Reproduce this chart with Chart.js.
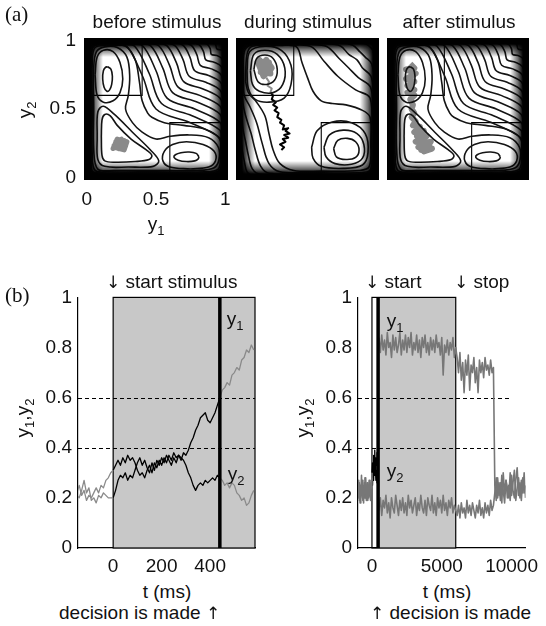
<!DOCTYPE html>
<html lang="en">
<head>
<meta charset="UTF-8">
<title>Decision dynamics</title>
<script src="https://cdn.jsdelivr.net/npm/chart.js"></script>
<style>
  body { margin: 0; background: #fff; color: #111; font-family: "Liberation Sans", Arial, sans-serif; }
  #fig { position: relative; width: 546px; height: 626px; overflow: hidden; }
  canvas { position: absolute; }
  .lbl { position: absolute; font-size: 19px; line-height: 1; white-space: nowrap; }
  .lbl sub { font-size: 13px; vertical-align: -5px; line-height: 0; }
  .arr { display: inline-block; font-family: "DejaVu Sans", sans-serif; font-size: 17px; color: #111; will-change: transform; }
  .c { transform: translate(-50%, -50%); }
  .rot { transform: translate(-50%, -50%) rotate(-90deg); }
  .tag { font-family: "Liberation Serif", "Times New Roman", serif; font-size: 21px; }
</style>
</head>
<body>
<div id="fig">
  <canvas id="before" width="240" height="215" style="left:0;top:0"></canvas>
  <canvas id="during" width="143" height="142" style="left:236px;top:38px"></canvas>
  <canvas id="after" width="142" height="142" style="left:387px;top:38px"></canvas>
  <canvas id="tsShort" width="270" height="300" style="left:0;top:280px"></canvas>
  <canvas id="tsLong" width="266" height="300" style="left:280px;top:280px"></canvas>

  <div class="lbl tag" style="left:5px;top:4px">(a)</div>
  <div class="lbl c" style="left:157px;top:21px">before stimulus</div>
  <div class="lbl c" style="left:308px;top:21px">during stimulus</div>
  <div class="lbl c" style="left:459px;top:21px">after stimulus</div>
  <div class="lbl rot" style="left:24px;top:110px">y<sub>2</sub></div>
  <div class="lbl c" style="left:156px;top:223px">y<sub>1</sub></div>

  <div class="lbl tag" style="left:5px;top:285px">(b)</div>
  <div class="lbl" style="left:106px;top:272px"><span class="arr">&#x2193;</span> start stimulus</div>
  <div class="lbl" style="left:365px;top:272px"><span class="arr">&#x2193;</span> start</div>
  <div class="lbl" style="left:454px;top:272px"><span class="arr">&#x2193;</span> stop</div>
  <div class="lbl c" style="left:235px;top:318px">y<sub>1</sub></div>
  <div class="lbl c" style="left:236px;top:473px">y<sub>2</sub></div>
  <div class="lbl c" style="left:395px;top:320px">y<sub>1</sub></div>
  <div class="lbl c" style="left:395px;top:470px">y<sub>2</sub></div>
  <div class="lbl rot" style="left:22px;top:418px">y<sub>1</sub>,y<sub>2</sub></div>
  <div class="lbl rot" style="left:302px;top:418px">y<sub>1</sub>,y<sub>2</sub></div>
  <div class="lbl c" style="left:167px;top:591px">t (ms)</div>
  <div class="lbl c" style="left:447px;top:591px">t (ms)</div>
  <div class="lbl" style="left:59px;top:603px">decision is made <span class="arr">&#x2191;</span></div>
  <div class="lbl" style="left:370px;top:603px"><span class="arr">&#x2191;</span> decision is made</div>
</div>

<script>
// ---------- (a) energy landscape contours, unit square (y1, y2) ----------
const boxUL = [[-0.05, 0.6], [0.4, 0.6], [0.4, 1.05]];
const boxLR = [[0.6, -0.05], [0.6, 0.4], [1.05, 0.4]];

// landscape without stimulus (three wells)
const ulCore = [[0.15,0.81],[0.175,0.79],[0.185,0.74],[0.18,0.68],[0.165,0.64],[0.145,0.63],[0.125,0.66],[0.115,0.72],[0.12,0.78],[0.135,0.805],[0.15,0.81]];
const lrCore = [[0.81,0.15],[0.79,0.175],[0.74,0.185],[0.68,0.18],[0.64,0.165],[0.63,0.145],[0.66,0.125],[0.72,0.115],[0.78,0.12],[0.805,0.135],[0.81,0.15]];
const llCore = [[0.105,0.3],[0.11,0.16],[0.13,0.12],[0.2,0.11],[0.35,0.115],[0.45,0.13],[0.47,0.16],[0.43,0.2],[0.32,0.28],[0.22,0.38],[0.17,0.45],[0.13,0.46],[0.11,0.42],[0.105,0.3]];
const ulRing = [[0.06,0.75],[0.075,0.88],[0.12,0.93],[0.19,0.92],[0.24,0.84],[0.26,0.72],[0.24,0.62],[0.19,0.56],[0.12,0.55],[0.075,0.6],[0.06,0.75]];
const lrRing = [[0.75,0.06],[0.88,0.075],[0.93,0.12],[0.92,0.19],[0.84,0.24],[0.72,0.26],[0.62,0.24],[0.56,0.19],[0.55,0.12],[0.6,0.075],[0.75,0.06]];
const llRing = [[0.075,0.3],[0.08,0.13],[0.13,0.08],[0.3,0.075],[0.48,0.08],[0.52,0.12],[0.46,0.2],[0.33,0.33],[0.2,0.46],[0.12,0.52],[0.08,0.48],[0.075,0.3]];
const merged1 = [[0.05,0.5],[0.05,0.8],[0.07,0.92],[0.13,0.955],[0.22,0.95],[0.29,0.88],[0.31,0.74],[0.3,0.6],[0.28,0.5],[0.33,0.4],[0.4,0.33],[0.5,0.28],[0.6,0.3],[0.74,0.31],[0.88,0.29],[0.95,0.22],[0.955,0.13],[0.92,0.07],[0.8,0.05],[0.5,0.05],[0.2,0.05],[0.08,0.06],[0.05,0.2],[0.05,0.5]];
const merged2 = [[0.04,0.5],[0.04,0.85],[0.06,0.95],[0.15,0.965],[0.28,0.96],[0.35,0.86],[0.38,0.7],[0.4,0.56],[0.44,0.47],[0.47,0.44],[0.56,0.4],[0.7,0.38],[0.86,0.35],[0.96,0.28],[0.965,0.15],[0.95,0.06],[0.85,0.04],[0.5,0.04],[0.15,0.04],[0.06,0.05],[0.04,0.15],[0.04,0.5]];
const outer1 = [[0.034,0.5],[0.034,0.9],[0.06,0.966],[0.2,0.966],[0.29,0.958],[0.403,0.74],[0.5,0.5],[0.74,0.403],[0.958,0.29],[0.966,0.2],[0.966,0.06],[0.9,0.034],[0.5,0.034],[0.06,0.034],[0.034,0.06],[0.034,0.5]];
const outer2 = [[0.031,0.5],[0.031,0.9],[0.06,0.969],[0.256,0.969],[0.346,0.96],[0.451,0.76],[0.54,0.54],[0.76,0.451],[0.96,0.346],[0.969,0.256],[0.969,0.06],[0.9,0.031],[0.5,0.031],[0.06,0.031],[0.031,0.06],[0.031,0.5]];
const outer3 = [[0.028,0.5],[0.028,0.9],[0.06,0.972],[0.315,0.972],[0.405,0.961],[0.5,0.78],[0.58,0.58],[0.78,0.5],[0.961,0.405],[0.972,0.315],[0.972,0.06],[0.9,0.028],[0.5,0.028],[0.06,0.028],[0.028,0.06],[0.028,0.5]];
const outer4 = [[0.025,0.5],[0.025,0.9],[0.06,0.975],[0.372,0.975],[0.462,0.962],[0.549,0.8],[0.62,0.62],[0.8,0.549],[0.962,0.462],[0.975,0.372],[0.975,0.06],[0.9,0.025],[0.5,0.025],[0.06,0.025],[0.025,0.06],[0.025,0.5]];
const outer5 = [[0.022,0.5],[0.022,0.9],[0.06,0.978],[0.43,0.978],[0.52,0.963],[0.598,0.82],[0.66,0.66],[0.82,0.598],[0.963,0.52],[0.978,0.43],[0.978,0.06],[0.9,0.022],[0.5,0.022],[0.06,0.022],[0.022,0.06],[0.022,0.5]];
const outer6 = [[0.019,0.5],[0.019,0.9],[0.06,0.981],[0.488,0.981],[0.578,0.964],[0.647,0.84],[0.7,0.7],[0.84,0.647],[0.964,0.578],[0.981,0.488],[0.981,0.06],[0.9,0.019],[0.5,0.019],[0.06,0.019],[0.019,0.06],[0.019,0.5]];
const outer7 = [[0.016,0.5],[0.016,0.9],[0.06,0.984],[0.546,0.984],[0.636,0.965],[0.696,0.86],[0.74,0.74],[0.86,0.696],[0.965,0.636],[0.984,0.546],[0.984,0.06],[0.9,0.016],[0.5,0.016],[0.06,0.016],[0.016,0.06],[0.016,0.5]];
const outer8 = [[0.013,0.5],[0.013,0.9],[0.06,0.987],[0.605,0.987],[0.695,0.967],[0.745,0.88],[0.78,0.78],[0.88,0.745],[0.967,0.695],[0.987,0.605],[0.987,0.06],[0.9,0.013],[0.5,0.013],[0.06,0.013],[0.013,0.06],[0.013,0.5]];
const outer9 = [[0.01,0.5],[0.01,0.9],[0.06,0.99],[0.662,0.99],[0.752,0.969],[0.794,0.9],[0.82,0.82],[0.9,0.794],[0.969,0.752],[0.99,0.662],[0.99,0.06],[0.9,0.01],[0.5,0.01],[0.06,0.01],[0.01,0.06],[0.01,0.5]];
const outer10 = [[0.007,0.5],[0.007,0.9],[0.06,0.993],[0.72,0.993],[0.81,0.972],[0.843,0.92],[0.86,0.86],[0.92,0.843],[0.972,0.81],[0.993,0.72],[0.993,0.06],[0.9,0.007],[0.5,0.007],[0.06,0.007],[0.007,0.06],[0.007,0.5]];
const outer11 = [[0.004,0.5],[0.004,0.9],[0.06,0.996],[0.78,0.996],[0.868,0.976],[0.892,0.94],[0.9,0.9],[0.94,0.892],[0.976,0.868],[0.996,0.78],[0.996,0.06],[0.9,0.004],[0.5,0.004],[0.06,0.004],[0.004,0.06],[0.004,0.5]];
const outer12 = [[0.001,0.5],[0.001,0.9],[0.06,0.999],[0.84,0.999],[0.926,0.98],[0.94,0.94],[0.98,0.926],[0.999,0.84],[0.999,0.06],[0.9,0.001],[0.5,0.001],[0.06,0.001],[0.001,0.06],[0.001,0.5]];
const restContours = [ulCore, lrCore, llCore, ulRing, lrRing, llRing, merged1, merged2,
  outer1, outer2, outer3, outer4, outer5, outer6, outer7, outer8, outer9, outer10, outer11, outer12];

// landscape during the stimulus (lower-left well gone)
const ul1 = [[0.11,0.79],[0.13,0.87],[0.19,0.895],[0.25,0.87],[0.28,0.79],[0.26,0.71],[0.2,0.68],[0.14,0.7],[0.11,0.79]];
const ul2 = [[0.085,0.78],[0.11,0.9],[0.19,0.93],[0.28,0.9],[0.335,0.8],[0.32,0.68],[0.25,0.62],[0.15,0.63],[0.1,0.68],[0.085,0.78]];
const ul3 = [[0.06,0.78],[0.08,0.92],[0.19,0.96],[0.31,0.93],[0.38,0.82],[0.38,0.68],[0.33,0.58],[0.22,0.55],[0.12,0.57],[0.07,0.65],[0.06,0.78]];
const lr1 = [[0.69,0.21],[0.72,0.27],[0.79,0.285],[0.85,0.26],[0.875,0.2],[0.85,0.145],[0.78,0.13],[0.71,0.15],[0.69,0.21]];
const lr2 = [[0.62,0.22],[0.66,0.31],[0.76,0.345],[0.86,0.32],[0.91,0.24],[0.9,0.14],[0.82,0.095],[0.7,0.1],[0.635,0.15],[0.62,0.22]];
const lr3 = [[0.53,0.22],[0.57,0.34],[0.68,0.405],[0.82,0.4],[0.92,0.32],[0.94,0.18],[0.9,0.09],[0.76,0.065],[0.6,0.08],[0.54,0.14],[0.53,0.22]];
const ridge1 = [[0.05,0.7],[0.06,0.9],[0.1,0.96],[0.3,0.965],[0.42,0.955],[0.46,0.84],[0.5,0.73],[0.54,0.63],[0.6,0.56],[0.68,0.54],[0.78,0.53],[0.9,0.49],[0.955,0.44],[0.96,0.25],[0.95,0.08],[0.88,0.05],[0.6,0.045],[0.4,0.05],[0.3,0.1],[0.25,0.2],[0.22,0.32],[0.19,0.45],[0.13,0.55],[0.07,0.62],[0.05,0.7]];
const ridge2 = [[0.035,0.72],[0.04,0.92],[0.09,0.968],[0.4,0.968],[0.53,0.955],[0.62,0.85],[0.72,0.74],[0.85,0.64],[0.955,0.58],[0.965,0.3],[0.96,0.06],[0.9,0.035],[0.5,0.035],[0.3,0.04],[0.22,0.1],[0.17,0.25],[0.13,0.4],[0.08,0.52],[0.04,0.6],[0.035,0.72]];
const ridge3 = [[0.028,0.72],[0.03,0.92],[0.08,0.972],[0.52,0.972],[0.64,0.958],[0.73,0.87],[0.8,0.8],[0.87,0.73],[0.958,0.66],[0.972,0.5],[0.972,0.08],[0.92,0.028],[0.5,0.028],[0.22,0.03],[0.16,0.08],[0.12,0.2],[0.09,0.32],[0.05,0.45],[0.03,0.55],[0.028,0.72]];
const ridge4 = [[0.021,0.72],[0.022,0.92],[0.07,0.979],[0.64,0.979],[0.74,0.962],[0.8,0.9],[0.86,0.86],[0.9,0.8],[0.962,0.74],[0.979,0.6],[0.979,0.08],[0.92,0.021],[0.5,0.021],[0.16,0.022],[0.1,0.06],[0.07,0.16],[0.05,0.26],[0.03,0.36],[0.021,0.5],[0.021,0.72]];
const ridge5 = [[0.014,0.72],[0.015,0.92],[0.06,0.986],[0.74,0.986],[0.83,0.967],[0.88,0.92],[0.92,0.88],[0.967,0.83],[0.986,0.7],[0.986,0.08],[0.92,0.014],[0.5,0.014],[0.1,0.015],[0.06,0.04],[0.04,0.12],[0.025,0.2],[0.015,0.3],[0.014,0.72]];
const ridge6 = [[0.007,0.72],[0.008,0.92],[0.05,0.993],[0.86,0.993],[0.93,0.975],[0.955,0.955],[0.975,0.93],[0.993,0.84],[0.993,0.08],[0.92,0.007],[0.5,0.007],[0.06,0.008],[0.03,0.02],[0.015,0.06],[0.008,0.15],[0.007,0.72]];
const stimContours = [ul1, ul2, ul3, lr1, lr2, lr3, ridge1, ridge2, ridge3, ridge4, ridge5, ridge6];

// simulated state clouds / trajectories in the (y1, y2) plane
const beforeCloud = [[0.19,0.25],[0.23,0.21],[0.28,0.23],[0.25,0.28],[0.2,0.22],[0.27,0.2],[0.29,0.26],[0.22,0.28],[0.19,0.21],[0.24,0.25],[0.27,0.27],[0.21,0.26],[0.25,0.2]];
const duringPath = [[0.31,0.2],[0.33,0.22],[0.3,0.24],[0.34,0.26],[0.32,0.28],[0.36,0.29],[0.33,0.31],[0.37,0.32],[0.34,0.34],[0.36,0.36],[0.32,0.35],[0.33,0.38],[0.3,0.4],[0.31,0.42],[0.28,0.44],[0.29,0.47],[0.26,0.49],[0.28,0.51],[0.25,0.53],[0.27,0.55],[0.24,0.57],[0.25,0.6],[0.23,0.62]];
const duringTail = [[0.23,0.62],[0.24,0.65],[0.21,0.67],[0.22,0.7],[0.2,0.73]];
const duringCloud = [[0.15,0.8],[0.2,0.86],[0.24,0.8],[0.18,0.74],[0.14,0.84],[0.22,0.84],[0.23,0.76],[0.16,0.77],[0.19,0.82],[0.15,0.86],[0.21,0.78]];
const afterCloud = [[0.15,0.83],[0.18,0.8],[0.12,0.79],[0.19,0.76],[0.12,0.72],[0.18,0.7],[0.13,0.67],[0.18,0.64],[0.13,0.62],[0.18,0.6],[0.15,0.57],[0.17,0.53],[0.16,0.5],[0.18,0.47],[0.16,0.44],[0.19,0.41],[0.17,0.38],[0.22,0.37],[0.18,0.33],[0.25,0.34],[0.2,0.3],[0.27,0.3],[0.19,0.26],[0.26,0.25],[0.21,0.22],[0.29,0.23],[0.23,0.2],[0.31,0.21],[0.25,0.19],[0.3,0.26],[0.22,0.24],[0.27,0.28]];

const unitTicks = [0, 0.5, 1];

// ---------- (b) time courses ----------
const thresholds = [0.4, 0.6];
const activityTicks = [0, 0.2, 0.4, 0.6, 0.8, 1];

// short trial, 10 ms samples
const shortTicks = [0, 200, 400];
const shortDecision = 440;
const y1Pre = [0.22,0.25,0.21,0.23,0.19,0.21,0.2,0.22,0.24,0.22,0.25,0.24,0.27,0.28,0.3,0.31];
const y2Pre = [0.21,0.2,0.23,0.27,0.22,0.24,0.19,0.2,0.18,0.21,0.2,0.22,0.21,0.2,0.2,0.2];
const y1Dur = [0.31,0.33,0.35,0.33,0.36,0.34,0.37,0.35,0.36,0.34,0.31,0.29,0.3,0.28,0.31,0.33,0.3,0.34,0.32,0.35,0.33,0.36,0.34,0.37,0.35,0.38,0.36,0.37,0.35,0.38,0.37,0.39,0.42,0.44,0.47,0.49,0.52,0.53,0.54,0.51,0.5,0.52,0.54,0.57,0.6];
const y2Dur = [0.2,0.23,0.27,0.29,0.28,0.3,0.27,0.29,0.28,0.31,0.34,0.36,0.33,0.35,0.32,0.3,0.34,0.31,0.35,0.33,0.36,0.34,0.37,0.35,0.33,0.36,0.34,0.37,0.36,0.35,0.33,0.3,0.28,0.25,0.23,0.25,0.26,0.25,0.27,0.26,0.27,0.28,0.27,0.29,0.28];
const y1Post = [0.6,0.63,0.64,0.66,0.65,0.69,0.7,0.72,0.71,0.75,0.76,0.79,0.78,0.81,0.79];
const y2Post = [0.28,0.27,0.25,0.26,0.24,0.26,0.25,0.22,0.21,0.19,0.2,0.17,0.18,0.21,0.23];

// long trial: pre 50 ms, decision phase 40 ms, then 100 ms samples
const longTicks = [0, 5000, 10000];
const longDecision = 440;
const longStop = 6000;
const r1Pre = [0.22,0.27,0.19,0.25,0.21,0.29,0.2,0.24,0.18,0.26,0.22,0.28,0.2,0.25,0.19,0.23,0.27,0.21,0.26,0.24,0.3];
const r2Pre = [0.24,0.2,0.26,0.18,0.23,0.21,0.27,0.19,0.25,0.2,0.28,0.22,0.19,0.26,0.23,0.2,0.25,0.22,0.19,0.27,0.28];
const r1Dur = [0.3,0.34,0.29,0.37,0.32,0.39,0.31,0.36,0.33,0.38,0.35,0.37];
const r2Dur = [0.28,0.25,0.32,0.27,0.35,0.29,0.33,0.27,0.31,0.26,0.3,0.28];
const r1Post = [
  0.84,0.78,0.85,0.79,0.83,0.77,0.86,0.8,0.82,0.76,0.85,0.79,0.84,0.78,0.81,0.86,0.77,0.83,0.79,0.85,
  0.78,0.84,0.8,0.86,0.77,0.82,0.79,0.85,0.78,0.83,0.76,0.84,0.8,0.85,0.78,0.82,0.77,0.84,0.79,0.83,
  0.78,0.85,0.8,0.82,0.77,0.84,0.69,0.81,0.78,0.83,0.77,0.82,0.79,0.84,0.76,0.8,
  0.76,0.7,0.78,0.67,0.74,0.62,0.75,0.69,0.77,0.63,0.73,0.7,0.76,0.66,0.72,0.62,0.75,0.7,0.74,0.68,0.76,0.71,0.73,0.69,0.75,0.7,0.72,
  0.25,0.19,0.28,0.21,0.26,0.18,0.3,0.22,0.27,0.2,0.25,0.19,0.29,0.23,0.2,0.27,0.32,0.21,0.26,0.19,0.28,0.22,0.25];
const r2Post = [
  0.15,0.2,0.13,0.19,0.16,0.21,0.14,0.18,0.12,0.2,0.16,0.14,0.21,0.17,0.13,0.19,0.15,0.2,0.14,0.18,
  0.13,0.21,0.16,0.19,0.14,0.17,0.2,0.13,0.18,0.15,0.21,0.16,0.14,0.19,0.13,0.2,0.17,0.15,0.21,0.14,
  0.18,0.13,0.2,0.16,0.19,0.14,0.21,0.15,0.18,0.13,0.19,0.16,0.2,0.14,0.17,0.15,
  0.13,0.17,0.12,0.18,0.14,0.16,0.12,0.19,0.14,0.17,0.13,0.18,0.15,0.12,0.17,0.14,0.19,0.13,0.16,0.12,0.18,0.14,0.17,0.13,0.19,0.15,0.17,
  0.22,0.28,0.2,0.26,0.19,0.29,0.23,0.18,0.27,0.24,0.2,0.3,0.21,0.26,0.31,0.19,0.24,0.28,0.2,0.27,0.22,0.3,0.2];

// ---------- helpers ----------
const GRAY = '#8a8a8a';
const INK = '#141414';
const pts = a => a.map(([x, y]) => ({ x, y }));
const series = (t0, dt, ys) => ys.map((y, i) => ({ x: t0 + i * dt, y }));
const trace = (data, color, width) => ({
  data, showLine: true, borderColor: color, borderWidth: width,
  pointRadius: 0, tension: 0, borderJoinStyle: 'round'
});
const contour = a => ({
  data: pts(a), showLine: true, borderColor: INK, borderWidth: 1.6,
  pointRadius: 0, tension: 0.35
});
const fixedTicks = list => s => { s.ticks = list.map(v => ({ value: v })); };

Chart.defaults.font.family = '"Liberation Sans", Arial, sans-serif';
Chart.defaults.font.size = 19;
Chart.defaults.color = '#111';

// dark rim of the landscape plots
const vignette = {
  id: 'vignette',
  afterDatasetsDraw(chart) {
    const { ctx, chartArea: { left, top, right, bottom } } = chart;
    const d = 19, w = right - left, h = bottom - top;
    const edge = (x0, y0, x1, y1, rx, ry, rw, rh) => {
      const g = ctx.createLinearGradient(x0, y0, x1, y1);
      g.addColorStop(0, 'rgba(0,0,0,1)');
      g.addColorStop(0.32, 'rgba(0,0,0,1)');
      g.addColorStop(0.6, 'rgba(0,0,0,0.55)');
      g.addColorStop(1, 'rgba(0,0,0,0)');
      ctx.fillStyle = g;
      ctx.fillRect(rx, ry, rw, rh);
    };
    ctx.save();
    edge(left, 0, left + d, 0, left, top, d, h);
    edge(right, 0, right - d, 0, right - d, top, d, h);
    edge(0, top, 0, top + d, left, top, w, d);
    edge(0, bottom, 0, bottom - d, left, bottom - d, w, d);
    ctx.restore();
  }
};

function landscape(id, lines, extra, axes) {
  const boxes = [boxUL, boxLR].map(b => ({
    data: pts(b), showLine: true, borderColor: '#000', borderWidth: 1.1, pointRadius: 0
  }));
  const axis = {
    type: 'linear', min: -0.02, max: 1.02, display: axes,
    grid: { display: false, drawTicks: false },
    border: { display: false },
    ticks: { padding: 8, callback: v => String(v) },
    afterBuildTicks: fixedTicks(unitTicks)
  };
  const x = { ...axis }, y = { ...axis };
  if (axes) {
    x.afterFit = s => { s.height = 35; };
    y.afterFit = s => { s.width = 84; };
  }
  return new Chart(document.getElementById(id), {
    type: 'scatter',
    data: { datasets: [...lines.map(contour), ...boxes, ...extra] },
    options: {
      responsive: false, animation: false,
      layout: { padding: axes ? { top: 38, right: 12, left: 0, bottom: 0 } : 0 },
      plugins: { legend: { display: false }, tooltip: { enabled: false } },
      scales: { x, y }
    },
    plugins: [vignette]
  });
}

landscape('before', restContours, [trace(pts(beforeCloud), GRAY, 5)], true);
landscape('during', stimContours, [
  trace(pts(duringCloud), GRAY, 6),
  trace(pts(duringTail), GRAY, 2),
  trace(pts(duringPath), '#000', 2)
], false);
landscape('after', restContours, [trace(pts(afterCloud), GRAY, 6)], false);

// stimulus window, thresholds and decision time
const epochs = {
  id: 'epochs',
  beforeDatasetsDraw(chart, args, o) {
    const { ctx, chartArea: a, scales: { x, y } } = chart;
    const px = v => Math.min(x.getPixelForValue(v), a.right);
    const top = y.getPixelForValue(1), bot = y.getPixelForValue(0);
    ctx.save();
    ctx.fillStyle = '#c8c8c8';
    ctx.fillRect(px(o.shadeFrom), top, px(o.shadeTo) - px(o.shadeFrom), bot - top);
    ctx.strokeStyle = '#000';
    ctx.lineWidth = 1.2;
    ctx.strokeRect(px(o.boxFrom), top, px(o.boxTo) - px(o.boxFrom), bot - top);
    ctx.lineWidth = 1;
    ctx.setLineDash([4, 3]);
    thresholds.forEach(v => {
      const yy = Math.round(y.getPixelForValue(v)) + 0.5;
      ctx.beginPath();
      ctx.moveTo(a.left, yy);
      ctx.lineTo(px(o.dashTo), yy);
      ctx.stroke();
    });
    ctx.restore();
  },
  afterDatasetsDraw(chart, args, o) {
    const { ctx, scales: { x, y } } = chart;
    const xx = x.getPixelForValue(o.decision);
    ctx.save();
    ctx.strokeStyle = '#000';
    ctx.lineWidth = 3.5;
    ctx.beginPath();
    ctx.moveTo(xx, y.getPixelForValue(0));
    ctx.lineTo(xx, y.getPixelForValue(1));
    ctx.stroke();
    ctx.restore();
  }
};

function timeCourse(id, xmin, xmax, ticks, datasets, ep, rightPad) {
  return new Chart(document.getElementById(id), {
    type: 'scatter',
    data: { datasets },
    options: {
      responsive: false, animation: false,
      layout: { padding: { top: 14, right: rightPad, left: 0, bottom: 0 } },
      plugins: { legend: { display: false }, tooltip: { enabled: false }, epochs: ep },
      scales: {
        x: {
          type: 'linear', min: xmin, max: xmax,
          grid: { display: false, drawTicks: false },
          border: { color: '#000', width: 1.2 },
          ticks: { padding: 7, maxRotation: 0, callback: v => String(v) },
          afterBuildTicks: fixedTicks(ticks),
          afterFit: s => { s.height = 32; }
        },
        y: {
          min: 0, max: 1,
          grid: { display: false, drawTicks: false },
          border: { color: '#000', width: 1.2 },
          ticks: { padding: 6, callback: v => String(v) },
          afterBuildTicks: fixedTicks(activityTicks),
          afterFit: s => { s.width = 78; }
        }
      }
    },
    plugins: [epochs]
  });
}

timeCourse('tsShort', -145, 585, shortTicks, [
  trace(series(-150, 10, y1Pre), GRAY, 1.3),
  trace(series(-150, 10, y2Pre), GRAY, 1.3),
  trace(series(0, 10, y1Dur), '#000', 1.3),
  trace(series(0, 10, y2Dur), '#000', 1.3),
  trace(series(shortDecision, 10, y1Post), GRAY, 1.3),
  trace(series(shortDecision, 10, y2Post), GRAY, 1.3)
], { shadeFrom: 0, shadeTo: 585, boxFrom: 0, boxTo: 585, dashTo: 585, decision: shortDecision }, 15);

timeCourse('tsLong', -1000, 11000, longTicks, [
  trace(series(-1000, 50, r1Pre), '#777', 1.6),
  trace(series(-1000, 50, r2Pre), '#777', 1.6),
  trace(series(500, 100, r1Post), '#777', 1.6),
  trace(series(500, 100, r2Post), '#777', 1.6),
  trace(series(0, 40, r1Dur), '#000', 1.3),
  trace(series(0, 40, r2Dur), '#000', 1.3)
], { shadeFrom: longDecision, shadeTo: longStop, boxFrom: 0, boxTo: longStop, dashTo: 10000, decision: longDecision }, 12);
</script>
</body>
</html>
